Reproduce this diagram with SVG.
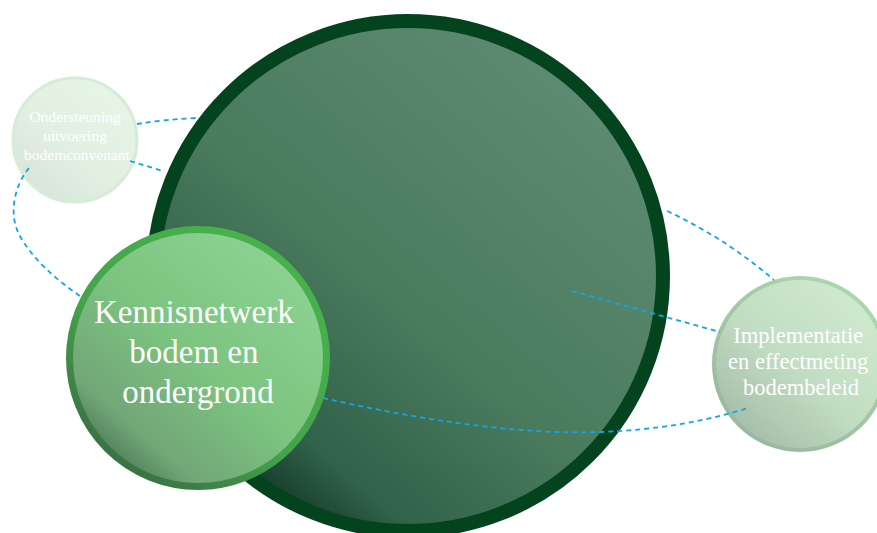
<svg xmlns="http://www.w3.org/2000/svg" width="877" height="533" viewBox="0 0 877 533">
  <defs>
    <linearGradient id="gBig" x1="0.85" y1="0.1" x2="0.15" y2="0.9">
      <stop offset="0" stop-color="#5e8b73"/>
      <stop offset="0.55" stop-color="#4a7b5d"/>
      <stop offset="0.85" stop-color="#31624a"/>
      <stop offset="1" stop-color="#0f3323"/>
    </linearGradient>
    <linearGradient id="gKen" x1="0.85" y1="0.1" x2="0.15" y2="0.9">
      <stop offset="0" stop-color="#8dd292"/>
      <stop offset="0.5" stop-color="#7cc480"/>
      <stop offset="0.85" stop-color="#72a677"/>
      <stop offset="1" stop-color="#4c7a56"/>
    </linearGradient>
    <linearGradient id="gKenS" x1="0.8" y1="0.1" x2="0.2" y2="0.9">
      <stop offset="0" stop-color="#47b24c"/>
      <stop offset="0.6" stop-color="#44a34a"/>
      <stop offset="1" stop-color="#3a7445"/>
    </linearGradient>
    <linearGradient id="gImp" x1="0.85" y1="0.1" x2="0.15" y2="0.9">
      <stop offset="0" stop-color="#cfeacf"/>
      <stop offset="0.55" stop-color="#c0dcc1"/>
      <stop offset="1" stop-color="#a5bda9"/>
    </linearGradient>
    <linearGradient id="gImpS" x1="0.8" y1="0.1" x2="0.2" y2="0.9">
      <stop offset="0" stop-color="#a9d8ab"/>
      <stop offset="1" stop-color="#9bb8a0"/>
    </linearGradient>
    <linearGradient id="gOnd" x1="0.85" y1="0.1" x2="0.15" y2="0.9">
      <stop offset="0" stop-color="#e7f5e7"/>
      <stop offset="0.6" stop-color="#e1efe1"/>
      <stop offset="1" stop-color="#d9e4da"/>
    </linearGradient>
    <style>
      .lbl { font-family: "Liberation Serif", "DejaVu Serif", serif; fill: #ffffff; text-anchor: middle; }
      .dash { fill: none; stroke: #12a6e8; stroke-width: 1.8; stroke-dasharray: 5 4; }
    </style>
  </defs>

  <g id="node-ondersteuning">
    <circle cx="75" cy="140" r="62" fill="url(#gOnd)" stroke="#d7ecd7" stroke-width="3"/>
    <text class="lbl" font-size="15.5">
      <tspan x="77" y="122">Ondersteuning</tspan>
      <tspan x="77" y="141">uitvoering</tspan>
      <tspan x="77" y="160">bodemconvenant</tspan>
    </text>
  </g>

  <g id="node-center">
    <circle cx="408" cy="276" r="255" fill="url(#gBig)" stroke="#03441f" stroke-width="14"/>
  </g>

  <g id="node-implementatie">
    <circle cx="800" cy="364" r="86" fill="url(#gImp)" stroke="url(#gImpS)" stroke-width="4"/>
    <text class="lbl" font-size="22.5">
      <tspan x="801" y="343">Implementatie</tspan>
      <tspan x="801" y="369">en effectmeting</tspan>
      <tspan x="801" y="395">bodembeleid</tspan>
    </text>
  </g>

  <g id="node-kennisnetwerk">
    <circle cx="198" cy="358" r="128.5" fill="url(#gKen)" stroke="url(#gKenS)" stroke-width="7"/>
    <text class="lbl" font-size="33">
      <tspan x="198" y="323">Kennisnetwerk</tspan>
      <tspan x="198" y="363">bodem en</tspan>
      <tspan x="198" y="403">ondergrond</tspan>
    </text>
  </g>

  <g id="connectors">
    <path class="dash" d="M29,168 C14,186 8,215 20,236 C32,258 55,279 80,296"/>
    <path class="dash" d="M137,124 C155,121 175,119 196,118"/>
    <path class="dash" d="M130,161 L163,171"/>
    <path class="dash" d="M667,211 Q725,238 774,280"/>
    <path class="dash" d="M572,291 L720,332"/>
    <path class="dash" d="M323,398 C420,420 520,435 600,432 C660,430 710,420 748,408"/>
  </g>
</svg>
